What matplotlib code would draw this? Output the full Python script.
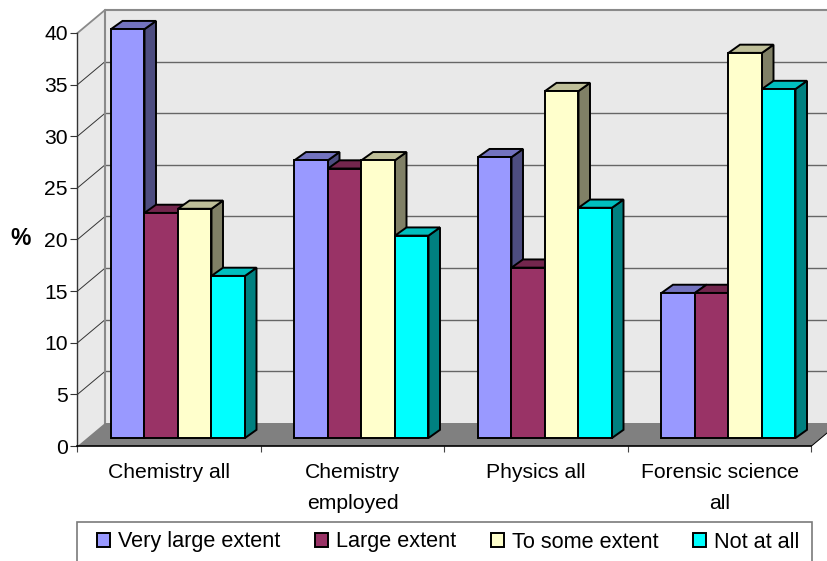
import matplotlib
matplotlib.use("Agg")
import matplotlib.pyplot as plt
from matplotlib.patches import Polygon, Patch, Rectangle

plt.rcParams["font.family"] = ["Liberation Sans", "DejaVu Sans"]

categories = ["Chemistry all", "Chemistry\nemployed", "Physics all", "Forensic science\nall"]
series = ["Very large extent", "Large extent", "To some extent", "Not at all"]
very_large = [39.6, 26.9, 27.2, 14.05]
large = [21.8, 26.1, 16.5, 14.05]
some = [22.2, 26.9, 33.6, 37.3]
not_at_all = [15.7, 19.6, 22.3, 33.8]
values = [very_large, large, some, not_at_all]
yticks = [0, 5, 10, 15, 20, 25, 30, 35, 40]

front = ["#9999FF", "#993366", "#FFFFCC", "#00FFFF"]
top = ["#7373BF", "#73264D", "#BFBF99", "#00BFBF"]
side = ["#4D4D80", "#4D1933", "#808066", "#008080"]

W, H = 828, 561
x0, x1 = 77.5, 811.5      # pixel ends of the x axis
y0, y40 = 446, 33         # pixel rows of 0 and 40
px = 4 / (x1 - x0)        # one pixel in category units
py = 40 / (y0 - y40)      # one pixel in value units

# depth of the box and of the bars
wall_dx, wall_dy = 27.5 * px, 23 * py
base_dy = 8 * py
bar_dx, bar_dy = 11.5 * px, 8.2 * py
bar_w = 33.5 * px
bar_start = 33.5 * px

fig = plt.figure(figsize=(W / 100, H / 100), dpi=100)
ax = fig.add_axes([x0 / W, 1 - y0 / H, (x1 - x0) / W, (y0 - y40) / H])
ax.set_xlim(0, 4)
ax.set_ylim(0, 40)

far = 4 + wall_dx


def poly(pts, **kw):
    ax.add_patch(Polygon(pts, closed=True, clip_on=False, **kw))


# walls and floor
poly([(wall_dx, wall_dy), (far, wall_dy), (far, 40 + wall_dy), (wall_dx, 40 + wall_dy)],
     facecolor="#E9E9E9", edgecolor="none", zorder=1)
poly([(0, 0), (wall_dx, wall_dy), (wall_dx, 40 + wall_dy), (0, 40)],
     facecolor="#E9E9E9", edgecolor="none", zorder=1)
poly([(0, 0), (4, 0), (far, wall_dy), (wall_dx, wall_dy)],
     facecolor="#808080", edgecolor="none", zorder=1.5)

# gridlines, back wall then the diagonals on the left wall
for v in yticks[1:-1]:
    ax.plot([wall_dx, far], [v + wall_dy, v + wall_dy], color="#666666", lw=1.0,
            clip_on=False, zorder=1.2)
for v in yticks[1:]:
    ax.plot([0, wall_dx], [v, v + wall_dy], color="#8a8a8a" if v == 40 else "#333333",
            lw=1.3 if v == 40 else 0.7, clip_on=False, zorder=1.2)
ax.plot([wall_dx, wall_dx, far], [wall_dy, 40 + wall_dy, 40 + wall_dy], color="#8a8a8a",
        lw=1.5, clip_on=False, zorder=1.3)
ax.plot([4, far], [0, wall_dy], color="black", lw=0.7, clip_on=False, zorder=1.6)

# bars, left to right so each one covers the side of the previous one
for g in range(len(categories)):
    for s in range(len(series)):
        v = values[s][g]
        left = g + bar_start + s * bar_w
        right = left + bar_w
        base = base_dy
        tip = base + v
        poly([(right, base), (right + bar_dx, base + bar_dy), (right + bar_dx, tip + bar_dy), (right, tip)],
             facecolor=side[s], edgecolor="black", lw=1.4, joinstyle="miter", zorder=2 + g + s * 0.1)
        poly([(left, tip), (right, tip), (right + bar_dx, tip + bar_dy), (left + bar_dx, tip + bar_dy)],
             facecolor=top[s], edgecolor="black", lw=1.4, joinstyle="miter", zorder=2 + g + s * 0.1)
        ax.bar(left, v, width=bar_w, bottom=base, align="edge", color=front[s], edgecolor="black",
               linewidth=1.4, clip_on=False, zorder=2.05 + g + s * 0.1)

# axes
for name in ["top", "right"]:
    ax.spines[name].set_visible(False)
ax.spines["left"].set_color("#333333")
ax.spines["left"].set_linewidth(1.0)
ax.spines["bottom"].set_color("black")
ax.spines["bottom"].set_linewidth(1.2)
for sp in ax.spines.values():
    sp.set_zorder(10)

ax.set_yticks(yticks)
ax.tick_params(axis="y", labelsize=15.2, length=5, width=0.8, pad=2, color="#333333")
ax.set_xticks([0, 1, 2, 3, 4])
ax.set_xticklabels([])
ax.tick_params(axis="x", which="major", length=4.5, width=0.8, color="#444444")
ax.set_xticks([0.5, 1.5, 2.5, 3.5], minor=True)
ax.set_xticklabels(categories, minor=True, fontsize=15.2, linespacing=1.75)
ax.tick_params(axis="x", which="minor", length=0, pad=12.5)

ax.text(21 / W, 1 - 238 / H, "%", transform=fig.transFigure, fontsize=16.5, fontweight="bold",
        ha="center", va="center")

# legend box runs off the bottom of the picture
fig.add_artist(Rectangle((77.5 / W, -0.05), (812.5 - 77.5) / W, 1 - 521.5 / H + 0.05,
                         transform=fig.transFigure, facecolor="white", edgecolor="#7a7a7a", lw=1.2))
handles = [Patch(facecolor=c, edgecolor="black", linewidth=1.4) for c in front]
fig.legend(handles, series, ncol=4, frameon=False, fontsize=15.6,
           loc="center left", bbox_to_anchor=(97 / W, 1 - 542 / H), borderpad=0, borderaxespad=0,
           handlelength=0.6, handleheight=0.6, handletextpad=0.37, columnspacing=1.6)

fig.savefig("out.png", dpi=100)
